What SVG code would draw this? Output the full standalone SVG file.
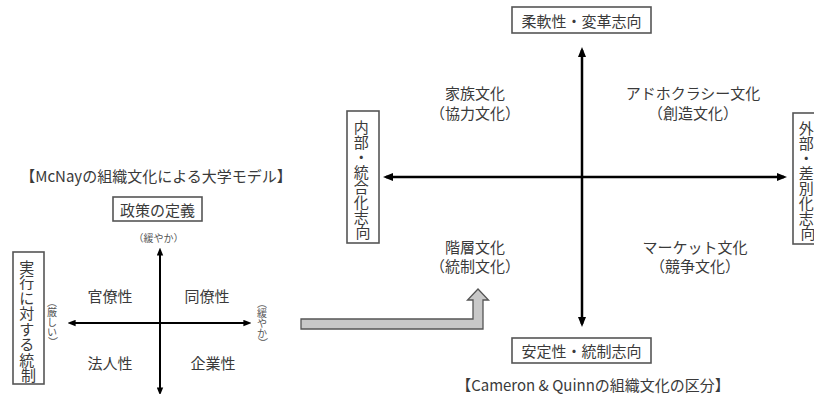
<svg xmlns="http://www.w3.org/2000/svg" width="814" height="394" viewBox="0 0 814 394">
<style>
  text { font-family: "Noto Sans CJK JP", "Noto Sans", sans-serif; fill: #3a3a3a; }
  .lbl { font-size: 15px; text-anchor: middle; dominant-baseline: central; }
  .small { font-size: 10px; fill: #555; text-anchor: middle; dominant-baseline: central; }
  .box { fill: #fff; stroke: #555; stroke-width: 1.6; }
  .axis { stroke: #000; stroke-width: 2.5; fill: none; }
  .axisS { stroke: #000; stroke-width: 2; fill: none; }
</style>
<defs>
  <marker id="ah" viewBox="0 0 10 8" markerUnits="userSpaceOnUse" markerWidth="10" markerHeight="8" refX="7" refY="4" orient="auto-start-reverse">
    <path d="M0,0 L10,4 L0,8 z" fill="#000"/>
  </marker>
  <marker id="ahs" viewBox="0 0 10 8" markerUnits="userSpaceOnUse" markerWidth="8" markerHeight="7" refX="7" refY="4" orient="auto-start-reverse">
    <path d="M0,0 L10,4 L0,8 z" fill="#000"/>
  </marker>
</defs>

<!-- Left diagram: McNay -->
<g id="mcnay-title">
  <text class="lbl" x="156" y="175">【McNayの組織文化による大学モデル】</text>
</g>
<g id="mcnay-top">
  <rect class="box" x="113" y="197" width="89" height="24"/>
  <text class="lbl" x="157.5" y="209">政策の定義</text>
  <text class="small" x="158.5" y="237">（緩やか）</text>
</g>
<g id="mcnay-left">
  <rect class="box" x="13" y="252" width="31" height="132"/>
  <text class="lbl" x="28.5">
    <tspan x="28.5" y="265.75">実</tspan>
    <tspan x="28.5" y="281.25">行</tspan>
    <tspan x="28.5" y="296.75">に</tspan>
    <tspan x="28.5" y="312.25">対</tspan>
    <tspan x="28.5" y="327.75">す</tspan>
    <tspan x="28.5" y="343.25">る</tspan>
    <tspan x="28.5" y="358.75">統</tspan>
    <tspan x="28.5" y="374.25">制</tspan>
  </text>
  <text class="small" x="53">
    <tspan x="53" y="301">︵</tspan>
    <tspan x="53" y="311">厳</tspan>
    <tspan x="53" y="321">し</tspan>
    <tspan x="53" y="331">い</tspan>
    <tspan x="53" y="341">︶</tspan>
  </text>
</g>
<g id="mcnay-right">
  <text class="small" x="263">
    <tspan x="263" y="302">︵</tspan>
    <tspan x="263" y="312">緩</tspan>
    <tspan x="263" y="322">や</tspan>
    <tspan x="263" y="332">か</tspan>
    <tspan x="263" y="342">︶</tspan>
  </text>
</g>
<g id="mcnay-quadrants">
  <text class="lbl" x="110" y="295">官僚性</text>
  <text class="lbl" x="207" y="295">同僚性</text>
  <text class="lbl" x="110" y="362">法人性</text>
  <text class="lbl" x="213" y="362">企業性</text>
</g>

<!-- Right diagram: Cameron & Quinn -->
<g id="cq-top">
  <rect class="box" x="512" y="7" width="139" height="26"/>
  <text class="lbl" x="581.5" y="20">柔軟性・変革志向</text>
</g>
<g id="cq-bottom">
  <rect class="box" x="512" y="338" width="139" height="25"/>
  <text class="lbl" x="581.5" y="350.5">安定性・統制志向</text>
</g>
<g id="cq-left">
  <rect class="box" x="347" y="111" width="32" height="132"/>
  <text class="lbl" x="363">
    <tspan x="363" y="125.5">内</tspan>
    <tspan x="363" y="140.5">部</tspan>
    <tspan x="363" y="155.5">・</tspan>
    <tspan x="363" y="170.5">統</tspan>
    <tspan x="363" y="185.5">合</tspan>
    <tspan x="363" y="200.5">化</tspan>
    <tspan x="363" y="215.5">志</tspan>
    <tspan x="363" y="230.5">向</tspan>
  </text>
</g>
<g id="cq-right">
  <rect class="box" x="793" y="113" width="34" height="131"/>
  <text class="lbl" x="808">
    <tspan x="808" y="126.5">外</tspan>
    <tspan x="808" y="141.5">部</tspan>
    <tspan x="808" y="156.5">・</tspan>
    <tspan x="808" y="171.5">差</tspan>
    <tspan x="808" y="186.5">別</tspan>
    <tspan x="808" y="201.5">化</tspan>
    <tspan x="808" y="216.5">志</tspan>
    <tspan x="808" y="231.5">向</tspan>
  </text>
</g>
<g id="cq-clan">
  <text class="lbl" x="475" y="92">家族文化</text>
  <text class="lbl" x="475" y="112">（協力文化）</text>
</g>
<g id="cq-adhocracy">
  <text class="lbl" x="693" y="92">アドホクラシー文化</text>
  <text class="lbl" x="693" y="112">（創造文化）</text>
</g>
<g id="cq-hierarchy">
  <text class="lbl" x="475" y="246">階層文化</text>
  <text class="lbl" x="475" y="265">（統制文化）</text>
</g>
<g id="cq-market">
  <text class="lbl" x="695" y="246">マーケット文化</text>
  <text class="lbl" x="695" y="265">（競争文化）</text>
</g>
<g id="cq-caption">
  <text class="lbl" x="593" y="384">【Cameron &amp; Quinnの組織文化の区分】</text>
</g>

<!-- Connectors -->
<g id="connectors">
  <line class="axisS" x1="160" y1="250" x2="160" y2="393" marker-start="url(#ahs)" marker-end="url(#ahs)"/>
  <line class="axisS" x1="70" y1="323" x2="249" y2="323" marker-start="url(#ahs)" marker-end="url(#ahs)"/>
  <line class="axis" x1="582" y1="50" x2="582" y2="324" marker-start="url(#ah)" marker-end="url(#ah)"/>
  <line class="axis" x1="386" y1="177" x2="784" y2="177" marker-start="url(#ah)" marker-end="url(#ah)"/>
  <polygon points="301,319 473,319 473,300 467.5,300 478,289 488.5,300 483,300 483,329 301,329" fill="#c8c8c8" stroke="#555" stroke-width="1.3"/>
</g>
</svg>
